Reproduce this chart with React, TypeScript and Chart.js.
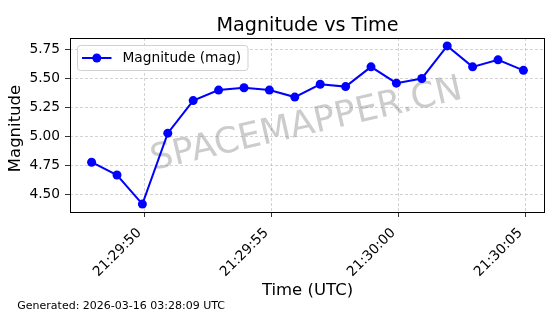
import React, { useEffect, useRef } from "react";
import { Chart, registerables } from "chart.js";

Chart.register(...registerables);

const times = [
  "21:29:47.9", "21:29:48.9", "21:29:49.9", "21:29:50.9", "21:29:51.9", "21:29:52.9",
  "21:29:53.9", "21:29:54.9", "21:29:55.9", "21:29:56.9", "21:29:57.9", "21:29:58.9",
  "21:29:59.9", "21:30:00.9", "21:30:01.9", "21:30:02.9", "21:30:03.9", "21:30:04.9",
];
const magnitudes = [
  4.78, 4.67, 4.42, 5.03, 5.31, 5.40, 5.42, 5.40, 5.34,
  5.45, 5.43, 5.60, 5.46, 5.50, 5.78, 5.60, 5.66, 5.57,
];
const xTickLabels = ["21:29:50", "21:29:55", "21:30:00", "21:30:05"];
const yTickValues = [4.5, 4.75, 5.0, 5.25, 5.5, 5.75];

const seriesLabel = "Magnitude (mag)";
const chartTitle = "Magnitude vs Time";
const xTitle = "Time (UTC)";
const yTitle = "Magnitude";
const footerText = "Generated: 2026-03-16 03:28:09 UTC";
const watermarkText = "SPACEMAPPER.CN";

const FONT = "'DejaVu Sans', sans-serif";

const toSec = (s: string) => {
  const [h, m, sec] = s.split(":");
  return Number(h) * 3600 + Number(m) * 60 + parseFloat(sec);
};
const pad2 = (n: number) => String(n).padStart(2, "0");
const fmtTime = (v: number) => {
  const t = Math.round(v);
  return `${pad2(Math.floor(t / 3600))}:${pad2(Math.floor((t % 3600) / 60))}:${pad2(t % 60)}`;
};

const decorPlugin = {
  id: "decor",
  beforeDatasetsDraw(chart: any) {
    const { ctx, chartArea: a } = chart;
    ctx.save();
    ctx.beginPath();
    ctx.rect(a.left, a.top, a.right - a.left, a.bottom - a.top);
    ctx.clip();
    ctx.translate((a.left + a.right) / 2, (a.top + a.bottom) / 2);
    ctx.rotate((-13 * Math.PI) / 180);
    ctx.font = `35.5px ${FONT}`;
    ctx.fillStyle = "rgba(128,128,128,0.4)";
    ctx.textAlign = "center";
    ctx.textBaseline = "middle";
    ctx.fillText(watermarkText, -1, 0);
    ctx.restore();
  },
  afterDatasetsDraw(chart: any) {
    const { ctx, chartArea: a } = chart;
    ctx.save();
    // frame (all four spines)
    ctx.strokeStyle = "#000";
    ctx.lineWidth = 1;
    ctx.strokeRect(Math.round(a.left) + 0.5, Math.round(a.top) + 0.5,
      Math.round(a.right - a.left) - 1, Math.round(a.bottom - a.top));
    // legend
    const ds = chart.data.datasets[0];
    ctx.font = `13.75px ${FONT}`;
    const tw = ctx.measureText(ds.label).width;
    const bx = a.left + 7.5;
    const by = a.top + 7.5;
    const bw = 45 + tw + 7;
    const bh = 25;
    ctx.beginPath();
    (ctx as any).roundRect(bx, by, bw, bh, 3);
    ctx.fillStyle = "rgba(255,255,255,0.8)";
    ctx.fill();
    ctx.strokeStyle = "rgba(204,204,204,0.9)";
    ctx.stroke();
    const cy = by + bh / 2;
    ctx.strokeStyle = ds.borderColor;
    ctx.lineWidth = 2;
    ctx.beginPath();
    ctx.moveTo(bx + 4.5, cy);
    ctx.lineTo(bx + 34, cy);
    ctx.stroke();
    ctx.fillStyle = ds.pointBackgroundColor;
    ctx.beginPath();
    ctx.arc(bx + 19.3, cy, ds.pointRadius, 0, Math.PI * 2);
    ctx.fill();
    ctx.fillStyle = "#000";
    ctx.textAlign = "left";
    ctx.textBaseline = "middle";
    ctx.fillText(ds.label, bx + 45, cy);
    ctx.restore();
  },
  afterDraw(chart: any) {
    const { ctx, chartArea: a } = chart;
    const cx = (a.left + a.right) / 2;
    ctx.save();
    ctx.fillStyle = "#000";
    ctx.textAlign = "center";
    ctx.textBaseline = "alphabetic";
    ctx.font = `19.2px ${FONT}`;
    ctx.fillText(chartTitle, cx, 31);
    ctx.font = `16.5px ${FONT}`;
    ctx.fillText(xTitle, cx, 294.5);
    ctx.save();
    ctx.translate(19.5, (a.top + a.bottom) / 2 + 3.5);
    ctx.rotate(-Math.PI / 2);
    ctx.fillText(yTitle, 0, 0);
    ctx.restore();
    ctx.textAlign = "left";
    ctx.font = `11px ${FONT}`;
    ctx.fillText(footerText, 17.3, 309);
    ctx.restore();
  },
};

export default function App() {
  const ref = useRef<HTMLCanvasElement | null>(null);

  useEffect(() => {
    if (!ref.current) return;
    const xs = times.map(toSec);
    const xMinD = Math.min(...xs);
    const xMaxD = Math.max(...xs);
    const xm = (xMaxD - xMinD) * 0.05;
    const yMinD = Math.min(...magnitudes);
    const yMaxD = Math.max(...magnitudes);
    const ym = (yMaxD - yMinD) * 0.05;
    const xTickSecs = xTickLabels.map(toSec);

    const gridColor = "rgba(176,176,176,0.7)";
    const tickFont = { family: FONT, size: 13.75 };

    const chart = new Chart(ref.current, {
      type: "line",
      data: {
        datasets: [
          {
            label: seriesLabel,
            data: xs.map((x, i) => ({ x, y: magnitudes[i] })),
            borderColor: "#0000ff",
            backgroundColor: "#0000ff",
            pointBackgroundColor: "#0000ff",
            pointBorderColor: "#0000ff",
            pointBorderWidth: 0,
            pointRadius: 4.5,
            borderWidth: 2,
            tension: 0,
            fill: false,
          } as any,
        ],
      },
      options: {
        animation: false,
        responsive: false,
        devicePixelRatio: 1,
        layout: { padding: { left: 0, right: 15, top: 38, bottom: 0 } },
        plugins: {
          legend: { display: false },
          title: { display: false },
          tooltip: { enabled: false },
        },
        scales: {
          x: {
            type: "linear",
            min: xMinD - xm,
            max: xMaxD + xm,
            afterBuildTicks: (s: any) => {
              s.ticks = xTickSecs.map((v) => ({ value: v }));
            },
            afterFit: (s: any) => {
              s.height = 102;
            },
            ticks: {
              color: "#000",
              font: tickFont,
              padding: 8,
              labelOffset: -5.5,
              maxRotation: 45,
              minRotation: 45,
              autoSkip: false,
              callback: (v: any) => fmtTime(Number(v)),
            },
            grid: { color: gridColor, tickColor: "#000", tickLength: 5, lineWidth: 0.8 },
            border: { display: false, color: "#000", width: 1, dash: [3, 2] },
          },
          y: {
            type: "linear",
            min: yMinD - ym,
            max: yMaxD + ym,
            afterBuildTicks: (s: any) => {
              s.ticks = yTickValues.map((v) => ({ value: v }));
            },
            afterFit: (s: any) => {
              s.width = 70;
            },
            ticks: {
              color: "#000",
              font: tickFont,
              padding: 5,
              callback: (v: any) => Number(v).toFixed(2),
            },
            grid: { color: gridColor, tickColor: "#000", tickLength: 5, lineWidth: 0.8 },
            border: { display: false, color: "#000", width: 1, dash: [3, 2] },
          },
        },
      },
      plugins: [decorPlugin],
    });
    return () => chart.destroy();
  }, []);

  return (
    <div style={{ position: "absolute", left: 0, top: 0, width: 560, height: 314, background: "#fff" }}>
      <canvas ref={ref} width={560} height={314} />
    </div>
  );
}
